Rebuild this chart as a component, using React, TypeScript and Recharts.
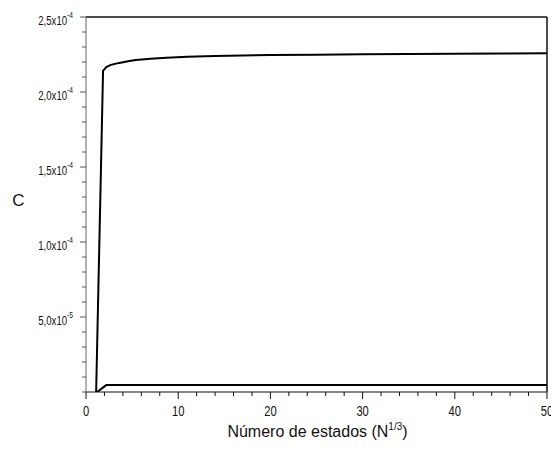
import { LineChart, Line, XAxis, YAxis, ReferenceLine } from "recharts";

// upper curve
const upperX = [1.1, 1.85, 2.2, 2.7, 3.6, 4.7, 5.4, 7, 8.7, 11, 14, 20, 25, 30, 35, 40, 45, 50];
const upperC = [0, 2.141e-4, 2.166e-4, 2.181e-4, 2.194e-4, 2.207e-4, 2.214e-4, 2.222e-4, 2.229e-4, 2.235e-4, 2.24e-4, 2.247e-4, 2.249e-4, 2.251e-4, 2.253e-4, 2.255e-4, 2.257e-4, 2.259e-4];

// lower curve
const lowerX = [1.2, 2.2, 10, 20, 30, 40, 50];
const lowerC = [0, 4.6e-6, 4.65e-6, 4.7e-6, 4.7e-6, 4.7e-6, 4.7e-6];

const xMajor = [0, 10, 20, 30, 40, 50];
const yMajor = [5e-5, 1e-4, 1.5e-4, 2e-4, 2.5e-4];
const yMantissa = ["5,0", "1,0", "1,5", "2,0", "2,5"];
const yExponent = ["-5", "-4", "-4", "-4", "-4"];

const upperData = upperX.map((x, i) => ({ x, c: upperC[i] }));
const lowerData = lowerX.map((x, i) => ({ x, c: lowerC[i] }));

const xTicks: number[] = [];
for (let i = 0; i <= 25; i++) xTicks.push(i * 2);
const yTicks: number[] = [];
for (let i = 0; i <= 25; i++) yTicks.push(i * 1e-5);

const FONT = "'Liberation Sans', Arial, sans-serif";

const XTick = ({ x, y, payload }: any) => {
  const v = payload.value;
  const major = xMajor.some((m) => Math.abs(m - v) < 1e-9);
  return (
    <g>
      <line x1={x} x2={x} y1={y} y2={y + (major ? 7 : 4)} stroke="#111" strokeWidth={1} />
      {major && (
        <text transform={`translate(${x} ${y + 24}) scale(0.8 1)`} textAnchor="middle" fontSize={14} fontFamily={FONT} fill="#111">
          {v}
        </text>
      )}
    </g>
  );
};

const YTick = ({ x, y, payload }: any) => {
  const v = payload.value;
  const idx = yMajor.findIndex((m) => Math.abs(m - v) < 1e-12);
  const major = idx >= 0;
  return (
    <g>
      <line x1={x} x2={x - (major ? 6 : 4)} y1={y} y2={y} stroke="#555" strokeWidth={1} />
      {major && (
        <text transform={`translate(${x - 13} ${y + 8}) scale(0.74 1)`} textAnchor="end" fontFamily={FONT} fill="#111">
          <tspan fontSize={13}>{yMantissa[idx] + "x10"}</tspan>
          <tspan fontSize={9} dy={-7}>{yExponent[idx]}</tspan>
        </text>
      )}
    </g>
  );
};

const XLabel = ({ viewBox }: any) => {
  const cx = viewBox.x + viewBox.width / 2;
  return (
    <text x={cx + 1} y={viewBox.y + 45} textAnchor="middle" fontFamily={FONT} fill="#111">
      <tspan fontSize={16}>Número de estados (N</tspan>
      <tspan fontSize={10} dy={-7}>1/3</tspan>
      <tspan fontSize={16} dy={7}>)</tspan>
    </text>
  );
};

const YLabel = () => (
  <text x={18.5} y={200} textAnchor="middle" dominantBaseline="central" fontSize={17} fontFamily={FONT} fill="#111">
    C
  </text>
);

export default function App() {
  return (
    <div style={{ position: "absolute", top: 0, left: 0, background: "#fff" }}>
      <LineChart width={551} height={457} margin={{ top: 17, right: 4, left: 0, bottom: 0 }}>
        <XAxis
          type="number"
          dataKey="x"
          domain={[0, 50]}
          ticks={xTicks}
          interval={0}
          allowDataOverflow
          height={65}
          stroke="#111"
          tickLine={false}
          tickSize={0}
          tickMargin={0}
          tick={<XTick />}
          label={<XLabel />}
        />
        <YAxis
          type="number"
          dataKey="c"
          domain={[0, 2.5e-4]}
          ticks={yTicks}
          interval={0}
          allowDataOverflow
          width={86}
          stroke="#666"
          tickLine={false}
          tickSize={0}
          tickMargin={0}
          tick={<YTick />}
          label={<YLabel />}
        />
        <ReferenceLine y={2.5e-4} stroke="#111" strokeWidth={1.5} />
        <ReferenceLine x={50} stroke="#111" strokeWidth={1.5} />
        <Line data={upperData} dataKey="c" type="linear" stroke="#000" strokeWidth={2} dot={false} isAnimationActive={false} />
        <Line data={lowerData} dataKey="c" type="linear" stroke="#000" strokeWidth={2} dot={false} isAnimationActive={false} />
      </LineChart>
    </div>
  );
}
